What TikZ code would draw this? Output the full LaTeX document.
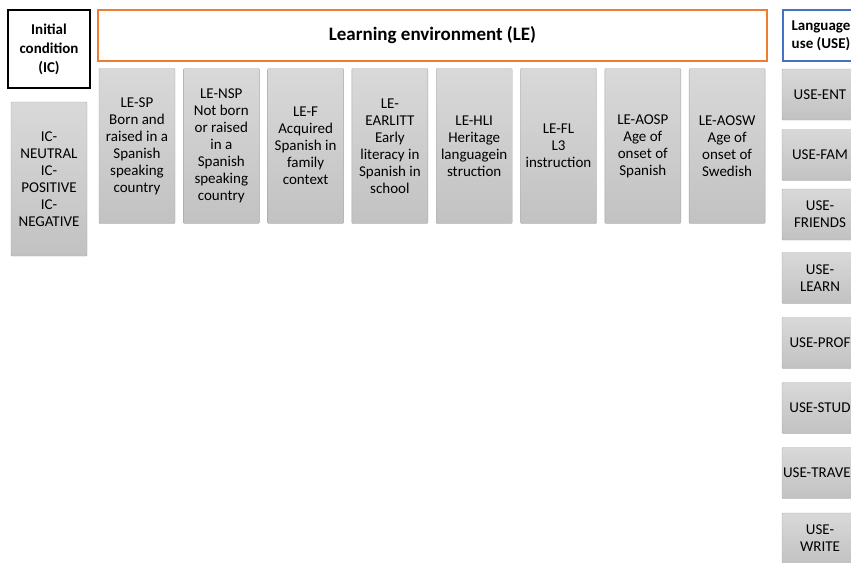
\documentclass[tikz,border=0pt]{standalone}
\usepackage{fontspec}
\setmainfont{Carlito}
\definecolor{leorange}{HTML}{ED7D31}
\definecolor{useblau}{HTML}{4472C4}
\definecolor{kastengrau}{HTML}{A6A6A6}

\begin{document}
\begin{tikzpicture}
		[
		x=1pt, y=-1pt, font=\fontsize{15}{17}\selectfont,
		%graue Kästen
		kasten/.style={draw=kastengrau, top color=black!15, bottom color=black!24, rounded corners=1pt, minimum width=76pt, inner sep=0pt, align=center},
		%Überschriften
		titel/.style={line width=1.5pt, fill=white, inner sep=0pt, align=center, font=\bfseries\fontsize{15}{19}\selectfont}
		]
		
		%Bildrahmen
		\useasboundingbox (0,0) rectangle (851,562);
		
		%Titel Initial condition
		\node[titel, draw=black, minimum width=82pt, minimum height=78pt] (ic) at (49,49) {Initial\\condition\\(IC)};
		
		%Titel Learning environment
		\node[titel, draw=leorange, minimum width=669pt, minimum height=51pt, font=\bfseries\fontsize{19}{21}\selectfont] (le) at (432.5,35.5) {Learning environment (LE)};
		
		%Titel Language use
		\node[titel, draw=useblau, minimum width=76pt, minimum height=51pt, font=\bfseries\fontsize{15}{18}\selectfont] (use) at (821,35.5) {Language\\use (USE)};
		
		%Kasten IC
		\node[kasten, minimum height=154pt] (ic-werte) at (49,179) {IC-\\NEUTRAL\\IC-\\POSITIVE\\IC-\\NEGATIVE};
		
		%Kästen LE
		\foreach \i/\name/\txt in {
			0/sp/{LE-SP\\Born and\\raised in a\\Spanish\\speaking\\country},
			1/nsp/{LE-NSP\\Not born\\or raised\\in a\\Spanish\\speaking\\country},
			2/f/{LE-F\\Acquired\\Spanish in\\family\\context},
			3/earlitt/{LE-\\EARLITT\\Early\\literacy in\\Spanish in\\school},
			4/hli/{LE-HLI\\Heritage\\languagein\\struction},
			5/fl/{LE-FL\\L3\\instruction},
			6/aosp/{LE-AOSP\\Age of\\onset of\\Spanish},
			7/aosw/{LE-AOSW\\Age of\\onset of\\Swedish}}
		\node[kasten, minimum height=155pt] (le-\name) at (137+84.3*\i,146) {\txt};
		
		%Kästen USE
		\foreach \y/\name/\txt in {
			94.5/ent/USE-ENT,
			155/fam/USE-FAM,
			214.5/friends/{USE-\\FRIENDS},
			278/learn/{USE-\\LEARN},
			343/prof/USE-PROF,
			408/stud/USE-STUD,
			473/travel/USE-TRAVEL,
			538.5/write/{USE-\\WRITE}}
		\node[kasten, minimum height=51pt] (use-\name) at (820,\y) {\txt};
	\end{tikzpicture}
\end{document}
